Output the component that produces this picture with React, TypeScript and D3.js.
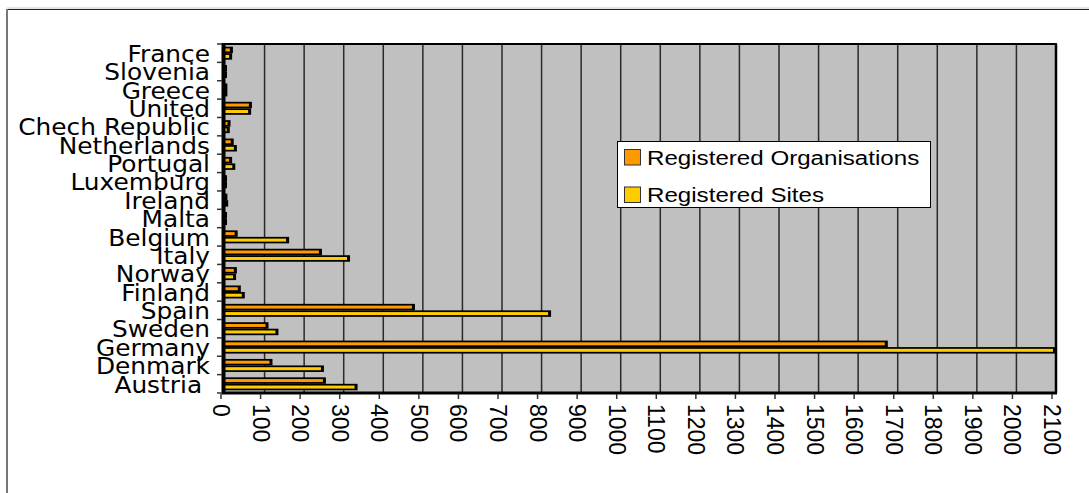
import React, { useRef, useEffect } from 'react';
import * as d3 from 'd3';

// categories listed top to bottom as they appear in the chart
const categories = [
  'France', 'Slovenia', 'Greece', 'United', 'Chech Republic', 'Netherlands',
  'Portugal', 'Luxemburg', 'Ireland', 'Malta', 'Belgium', 'Italy', 'Norway',
  'Finland', 'Spain', 'Sweden', 'Germany', 'Denmark', 'Austria ',
];
const organisations = [20, 2, 6, 68, 14, 22, 18, 2, 6, 2, 32, 245, 30, 40, 480, 110, 1675, 120, 255];
const sites = [18, 2, 6, 66, 12, 30, 26, 2, 8, 2, 162, 316, 28, 50, 824, 135, 2100, 250, 335];
const xTicks = d3.range(0, 2101, 100);
const seriesNames = ['Registered Organisations', 'Registered Sites'];
const seriesColors = ['#FF9900', '#FFCC00'];

const W = 1089;
const H = 493;

const App: React.FC = () => {
  const svgRef = useRef<SVGSVGElement>(null);

  useEffect(() => {
    if (!svgRef.current) return;
    const svg = d3.select(svgRef.current);
    svg.selectAll('*').remove();

    const plot = { left: 225, right: 1056, top: 44, bottom: 393 };

    // outer frame (runs off the picture on right / bottom)
    svg.append('line').attr('x1', 7).attr('x2', W).attr('y1', 8).attr('y2', 8)
      .attr('stroke', '#c8c8c8').attr('stroke-width', 1);
    svg.append('line').attr('x1', 7).attr('x2', W).attr('y1', 9.5).attr('y2', 9.5)
      .attr('stroke', '#222').attr('stroke-width', 1);
    svg.append('line').attr('x1', 7).attr('x2', 7).attr('y1', 9).attr('y2', H)
      .attr('stroke', '#777').attr('stroke-width', 2);

    const x = d3.scaleLinear().domain([0, 2100]).range([plot.left, plot.right]);
    const y = d3.scaleBand().domain(categories).range([plot.top, plot.bottom]);

    // plot background
    svg.append('rect')
      .attr('x', plot.left).attr('y', plot.top)
      .attr('width', plot.right - plot.left).attr('height', plot.bottom - plot.top)
      .attr('fill', '#C0C0C0');

    // vertical gridlines
    svg.append('g').selectAll('line')
      .data(xTicks.filter(d => d > 0 && d < 2100))
      .enter().append('line')
      .attr('x1', d => x(d)).attr('x2', d => x(d))
      .attr('y1', plot.top).attr('y2', plot.bottom)
      .attr('stroke', '#2a2a2a').attr('stroke-width', 1.5);

    // bars
    const barH = 6.5;
    const bars = svg.append('g');
    categories.forEach((c, i) => {
      const yc = y(c)! + y.bandwidth() / 2;
      [organisations[i], sites[i]].forEach((v, s) => {
        const y0 = yc - barH + s * barH;
        const xe = Math.min(x(v), plot.right);
        bars.append('rect')
          .attr('x', plot.left).attr('y', y0)
          .attr('width', Math.max(xe - plot.left, 2)).attr('height', barH)
          .attr('fill', '#000');
        if (xe - plot.left > 4) {
          bars.append('rect')
            .attr('x', plot.left).attr('y', y0 + 1.75)
            .attr('width', xe - plot.left - 3).attr('height', barH - 3.5)
            .attr('fill', seriesColors[s]);
        }
      });
    });

    // plot border: top and right
    svg.append('line').attr('x1', plot.left).attr('x2', plot.right + 1)
      .attr('y1', plot.top).attr('y2', plot.top)
      .attr('stroke', '#000').attr('stroke-width', 2);
    svg.append('line').attr('x1', plot.right).attr('x2', plot.right)
      .attr('y1', plot.top).attr('y2', plot.bottom)
      .attr('stroke', '#000').attr('stroke-width', 2.5);

    // y axis
    svg.append('line').attr('x1', plot.left - 1.5).attr('x2', plot.left - 1.5)
      .attr('y1', plot.top - 1).attr('y2', plot.bottom + 1)
      .attr('stroke', '#000').attr('stroke-width', 4);
    const yTickPos = categories.map(c => y(c)!).concat([plot.bottom]);
    svg.append('g').selectAll('line')
      .data(yTickPos).enter().append('line')
      .attr('x1', plot.left - 8).attr('x2', plot.left - 3)
      .attr('y1', d => d).attr('y2', d => d)
      .attr('stroke', '#333').attr('stroke-width', 1.5);
    svg.append('g').selectAll('text')
      .data(categories).enter().append('text')
      .attr('transform', d => `translate(210,${y(d)! + y.bandwidth() / 2 + 1}) scale(1.08,1)`)
      .attr('text-anchor', 'end')
      .attr('dominant-baseline', 'central')
      .style('white-space', 'pre')
      .style('font-family', '"DejaVu Sans", Verdana, sans-serif')
      .style('font-size', '23px')
      .style('fill', '#000')
      .text(d => d);

    // x axis (Excel draws the ticks a little left of the gridlines)
    const tickShift = -4;
    svg.append('line').attr('x1', plot.left - 3).attr('x2', plot.right + 1)
      .attr('y1', plot.bottom).attr('y2', plot.bottom)
      .attr('stroke', '#000').attr('stroke-width', 3);
    svg.append('g').selectAll('line')
      .data(xTicks).enter().append('line')
      .attr('x1', d => x(d) + tickShift).attr('x2', d => x(d) + tickShift)
      .attr('y1', plot.bottom + 1).attr('y2', plot.bottom + 6)
      .attr('stroke', '#333').attr('stroke-width', 1.5);
    svg.append('g').selectAll('text')
      .data(xTicks).enter().append('text')
      .attr('transform', d => `translate(${x(d) + tickShift},404) rotate(90)`)
      .attr('text-anchor', 'start')
      .attr('dominant-baseline', 'central')
      .style('font-family', '"Liberation Sans", Arial, sans-serif')
      .style('font-size', '23px')
      .style('fill', '#000')
      .text(d => String(d));

    // legend
    const lg = svg.append('g');
    lg.append('rect').attr('x', 617.5).attr('y', 141.5).attr('width', 313).attr('height', 66)
      .attr('fill', '#fff').attr('stroke', '#000').attr('stroke-width', 1);
    seriesNames.forEach((name, i) => {
      const top = 149 + i * 37.5;
      lg.append('rect').attr('x', 624.5).attr('y', top + 0.5).attr('width', 16).attr('height', 15.5)
        .attr('fill', seriesColors[i]).attr('stroke', '#333').attr('stroke-width', 1);
      lg.append('text')
        .attr('transform', `translate(647,${top + 15.5}) scale(1.15,1)`)
        .style('font-family', '"Liberation Sans", Arial, sans-serif')
        .style('font-size', '21px')
        .style('fill', '#000')
        .text(name);
    });
  }, []);

  return (
    <svg
      ref={svgRef}
      width={W}
      height={H}
      style={{ position: 'absolute', left: 0, top: 0, background: '#fff' }}
    />
  );
};

export default App;
